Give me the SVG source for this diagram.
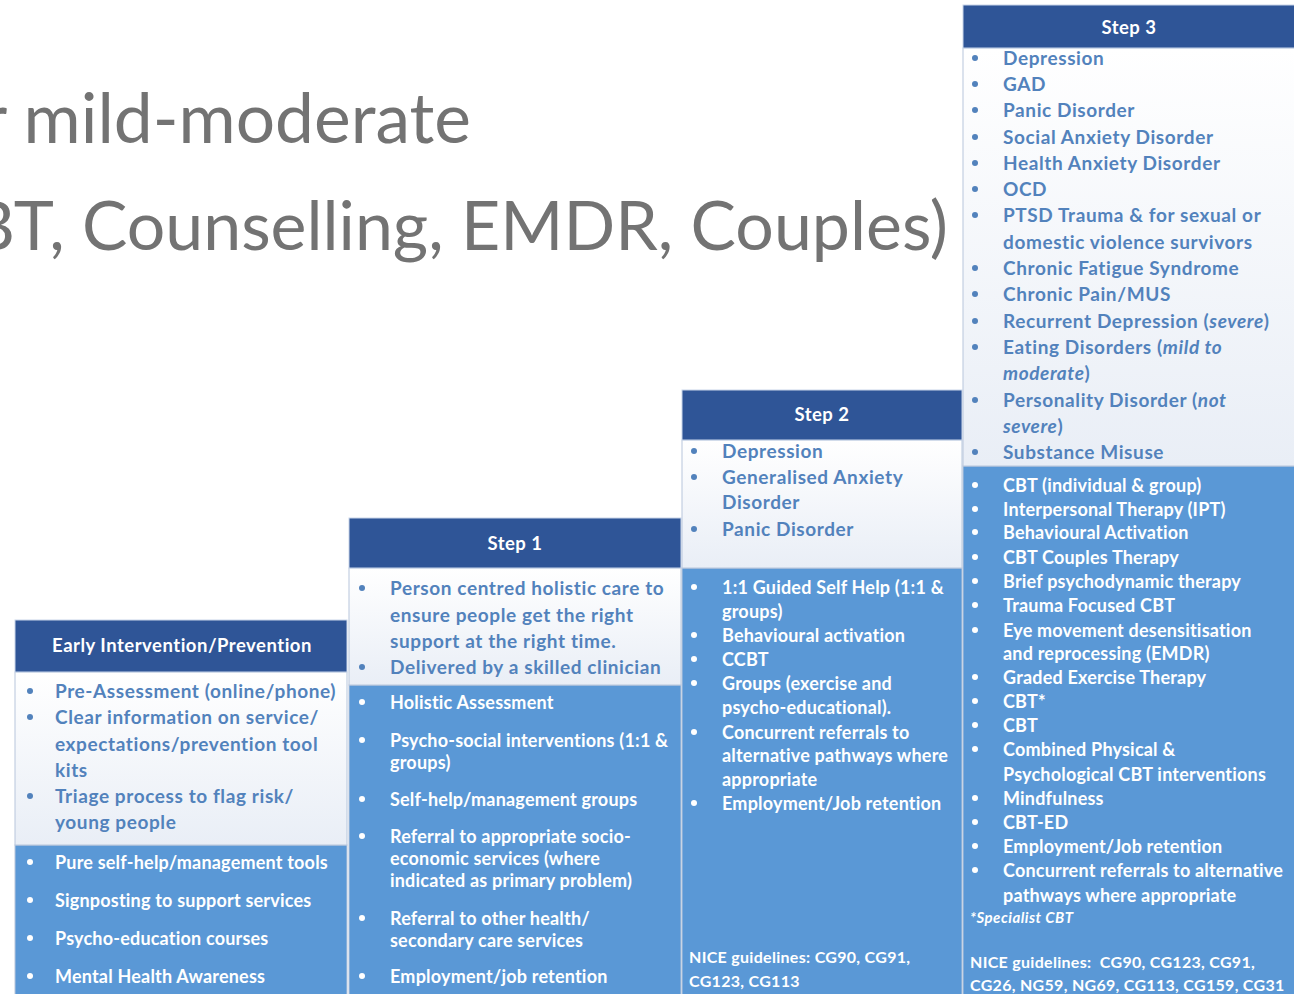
<svg xmlns="http://www.w3.org/2000/svg" width="1294" height="994" viewBox="0 0 1294 994">
<defs>
<linearGradient id="lg" x1="0" y1="0" x2="0" y2="1">
<stop offset="0" stop-color="#FFFFFF"/>
<stop offset="1" stop-color="#E9EEF6"/>
</linearGradient>
<style>
.title{font-family:Lato,"Liberation Sans",sans-serif;font-size:68px;fill:#737373}
.hdr{fill:#2F5597;stroke:#C9D6EA;stroke-width:1}
.lgt{fill:url(#lg);stroke:#B7C6DC;stroke-width:1}
.blu{fill:#5A98D6;stroke:#B7C6DC;stroke-width:1}
.ht{font-family:Lato,"Liberation Sans",sans-serif;font-weight:bold;font-size:18.5px;letter-spacing:0.5px;fill:#FFFFFF;text-anchor:middle}
.lt{font-family:Lato,"Liberation Sans",sans-serif;font-weight:bold;font-size:19px;letter-spacing:0.6px;fill:#5282BC}
.wt{font-family:Lato,"Liberation Sans",sans-serif;font-weight:bold;font-size:18px;letter-spacing:0.2px;fill:#FFFFFF}
.nt{font-family:Lato,"Liberation Sans",sans-serif;font-weight:bold;font-size:16px;letter-spacing:0.3px;fill:#FFFFFF}
.lb{fill:#5282BC}
.wb{fill:#FFFFFF}
.it{font-style:italic}
</style>
</defs>
<rect width="1294" height="994" fill="#FFFFFF"/>
<g id="title">
<text class="title" x="471" y="143" text-anchor="end" style="font-size:69.5px">r mild-moderate</text>
<text class="title" x="948" y="250" text-anchor="end">BT, Counselling, EMDR, Couples)</text>
</g>

<g id="early">
<rect class="blu" x="15" y="845" width="332" height="160"/>
<rect class="lgt" x="15" y="672" width="332" height="173"/>
<rect class="hdr" x="15" y="620" width="332" height="52"/>
<text class="ht" x="182" y="652">Early Intervention/Prevention</text>
<circle class="lb" cx="30" cy="691" r="3"/>
<circle class="lb" cx="30" cy="717" r="3"/>
<circle class="lb" cx="30" cy="796" r="3"/>
<text class="lt" x="55" y="698">Pre-Assessment (online/phone)</text>
<text class="lt" x="55" y="724">Clear information on service/</text>
<text class="lt" x="55" y="751">expectations/prevention tool</text>
<text class="lt" x="55" y="777">kits</text>
<text class="lt" x="55" y="803">Triage process to flag risk/</text>
<text class="lt" x="55" y="829">young people</text>
<circle class="wb" cx="30" cy="862" r="3"/>
<circle class="wb" cx="30" cy="900" r="3"/>
<circle class="wb" cx="30" cy="938" r="3"/>
<circle class="wb" cx="30" cy="976" r="3"/>
<text class="wt" x="55" y="869">Pure self-help/management tools</text>
<text class="wt" x="55" y="907">Signposting to support services</text>
<text class="wt" x="55" y="945">Psycho-education courses</text>
<text class="wt" x="55" y="983">Mental Health Awareness</text>
</g>

<g id="step1">
<rect class="blu" x="349" y="685" width="332" height="320"/>
<rect class="lgt" x="349" y="568" width="332" height="117"/>
<rect class="hdr" x="349" y="518" width="332" height="50"/>
<text class="ht" x="515" y="550">Step 1</text>
<circle class="lb" cx="362" cy="588" r="3"/>
<circle class="lb" cx="362" cy="667" r="3"/>
<text class="lt" x="390" y="595">Person centred holistic care to</text>
<text class="lt" x="390" y="622">ensure people get the right</text>
<text class="lt" x="390" y="648">support at the right time.</text>
<text class="lt" x="390" y="674">Delivered by a skilled clinician</text>
<circle class="wb" cx="362" cy="702" r="3"/>
<circle class="wb" cx="362" cy="740" r="3"/>
<circle class="wb" cx="362" cy="799" r="3"/>
<circle class="wb" cx="362" cy="836" r="3"/>
<circle class="wb" cx="362" cy="918" r="3"/>
<circle class="wb" cx="362" cy="976" r="3"/>
<text class="wt" x="390" y="709">Holistic Assessment</text>
<text class="wt" x="390" y="747">Psycho-social interventions (1:1 &amp;</text>
<text class="wt" x="390" y="769">groups)</text>
<text class="wt" x="390" y="806">Self-help/management groups</text>
<text class="wt" x="390" y="843">Referral to appropriate socio-</text>
<text class="wt" x="390" y="865">economic services (where</text>
<text class="wt" x="390" y="887">indicated as primary problem)</text>
<text class="wt" x="390" y="925">Referral to other health/</text>
<text class="wt" x="390" y="947">secondary care services</text>
<text class="wt" x="390" y="983">Employment/job retention</text>
</g>

<g id="step2">
<rect class="blu" x="682" y="568" width="280" height="437"/>
<rect class="lgt" x="682" y="440" width="280" height="128"/>
<rect class="hdr" x="682" y="390" width="280" height="50"/>
<text class="ht" x="822" y="421">Step 2</text>
<circle class="lb" cx="694" cy="451" r="3"/>
<circle class="lb" cx="694" cy="477" r="3"/>
<circle class="lb" cx="694" cy="529" r="3"/>
<text class="lt" x="722" y="458">Depression</text>
<text class="lt" x="722" y="484">Generalised Anxiety</text>
<text class="lt" x="722" y="509">Disorder</text>
<text class="lt" x="722" y="536">Panic Disorder</text>
<circle class="wb" cx="694" cy="587" r="3"/>
<circle class="wb" cx="694" cy="635" r="3"/>
<circle class="wb" cx="694" cy="659" r="3"/>
<circle class="wb" cx="694" cy="683" r="3"/>
<circle class="wb" cx="694" cy="732" r="3"/>
<circle class="wb" cx="694" cy="803" r="3"/>
<text class="wt" x="722" y="594">1:1 Guided Self Help (1:1 &amp;</text>
<text class="wt" x="722" y="618">groups)</text>
<text class="wt" x="722" y="642">Behavioural activation</text>
<text class="wt" x="722" y="666">CCBT</text>
<text class="wt" x="722" y="690">Groups (exercise and</text>
<text class="wt" x="722" y="714">psycho-educational).</text>
<text class="wt" x="722" y="739">Concurrent referrals to</text>
<text class="wt" x="722" y="762">alternative pathways where</text>
<text class="wt" x="722" y="786">appropriate</text>
<text class="wt" x="722" y="810">Employment/Job retention</text>
<text class="nt" x="689" y="963">NICE guidelines: CG90, CG91,</text>
<text class="nt" x="689" y="987">CG123, CG113</text>
</g>

<g id="step3">
<rect class="blu" x="963" y="466" width="340" height="540"/>
<rect class="lgt" x="963" y="48" width="340" height="418"/>
<rect class="hdr" x="963" y="5" width="340" height="43"/>
<text class="ht" x="1129" y="34">Step 3</text>
<circle class="lb" cx="975" cy="58" r="3"/>
<circle class="lb" cx="975" cy="84" r="3"/>
<circle class="lb" cx="975" cy="110" r="3"/>
<circle class="lb" cx="975" cy="137" r="3"/>
<circle class="lb" cx="975" cy="163" r="3"/>
<circle class="lb" cx="975" cy="189" r="3"/>
<circle class="lb" cx="975" cy="215" r="3"/>
<circle class="lb" cx="975" cy="268" r="3"/>
<circle class="lb" cx="975" cy="294" r="3"/>
<circle class="lb" cx="975" cy="321" r="3"/>
<circle class="lb" cx="975" cy="347" r="3"/>
<circle class="lb" cx="975" cy="400" r="3"/>
<circle class="lb" cx="975" cy="452" r="3"/>
<text class="lt" x="1003" y="65">Depression</text>
<text class="lt" x="1003" y="91">GAD</text>
<text class="lt" x="1003" y="117">Panic Disorder</text>
<text class="lt" x="1003" y="144">Social Anxiety Disorder</text>
<text class="lt" x="1003" y="170">Health Anxiety Disorder</text>
<text class="lt" x="1003" y="196">OCD</text>
<text class="lt" x="1003" y="222">PTSD Trauma &amp; for sexual or</text>
<text class="lt" x="1003" y="249">domestic violence survivors</text>
<text class="lt" x="1003" y="275">Chronic Fatigue Syndrome</text>
<text class="lt" x="1003" y="301">Chronic Pain/MUS</text>
<text class="lt" x="1003" y="328">Recurrent Depression (<tspan class="it">severe</tspan>)</text>
<text class="lt" x="1003" y="354">Eating Disorders (<tspan class="it">mild to</tspan></text>
<text class="lt" x="1003" y="380"><tspan class="it">moderate</tspan>)</text>
<text class="lt" x="1003" y="407">Personality Disorder (<tspan class="it">not</tspan></text>
<text class="lt" x="1003" y="433"><tspan class="it">severe</tspan>)</text>
<text class="lt" x="1003" y="459">Substance Misuse</text>
<circle class="wb" cx="975" cy="485" r="3"/>
<circle class="wb" cx="975" cy="509" r="3"/>
<circle class="wb" cx="975" cy="532" r="3"/>
<circle class="wb" cx="975" cy="557" r="3"/>
<circle class="wb" cx="975" cy="581" r="3"/>
<circle class="wb" cx="975" cy="605" r="3"/>
<circle class="wb" cx="975" cy="630" r="3"/>
<circle class="wb" cx="975" cy="677" r="3"/>
<circle class="wb" cx="975" cy="701" r="3"/>
<circle class="wb" cx="975" cy="725" r="3"/>
<circle class="wb" cx="975" cy="749" r="3"/>
<circle class="wb" cx="975" cy="798" r="3"/>
<circle class="wb" cx="975" cy="822" r="3"/>
<circle class="wb" cx="975" cy="846" r="3"/>
<circle class="wb" cx="975" cy="870" r="3"/>
<text class="wt" x="1003" y="492">CBT (individual &amp; group)</text>
<text class="wt" x="1003" y="516">Interpersonal Therapy (IPT)</text>
<text class="wt" x="1003" y="539">Behavioural Activation</text>
<text class="wt" x="1003" y="564">CBT Couples Therapy</text>
<text class="wt" x="1003" y="588">Brief psychodynamic therapy</text>
<text class="wt" x="1003" y="612">Trauma Focused CBT</text>
<text class="wt" x="1003" y="637">Eye movement desensitisation</text>
<text class="wt" x="1003" y="660">and reprocessing (EMDR)</text>
<text class="wt" x="1003" y="684">Graded Exercise Therapy</text>
<text class="wt" x="1003" y="708">CBT*</text>
<text class="wt" x="1003" y="732">CBT</text>
<text class="wt" x="1003" y="756">Combined Physical &amp;</text>
<text class="wt" x="1003" y="781">Psychological CBT interventions</text>
<text class="wt" x="1003" y="805">Mindfulness</text>
<text class="wt" x="1003" y="829">CBT-ED</text>
<text class="wt" x="1003" y="853">Employment/Job retention</text>
<text class="wt" x="1003" y="877">Concurrent referrals to alternative</text>
<text class="wt" x="1003" y="902">pathways where appropriate</text>
<text class="nt it" x="970" y="923" style="font-size:15px;letter-spacing:0.5px">*Specialist CBT</text>
<text class="nt" x="970" y="968" xml:space="preserve">NICE guidelines:  CG90, CG123, CG91,</text>
<text class="nt" x="970" y="991">CG26, NG59, NG69, CG113, CG159, CG31</text>
</g>
</svg>
